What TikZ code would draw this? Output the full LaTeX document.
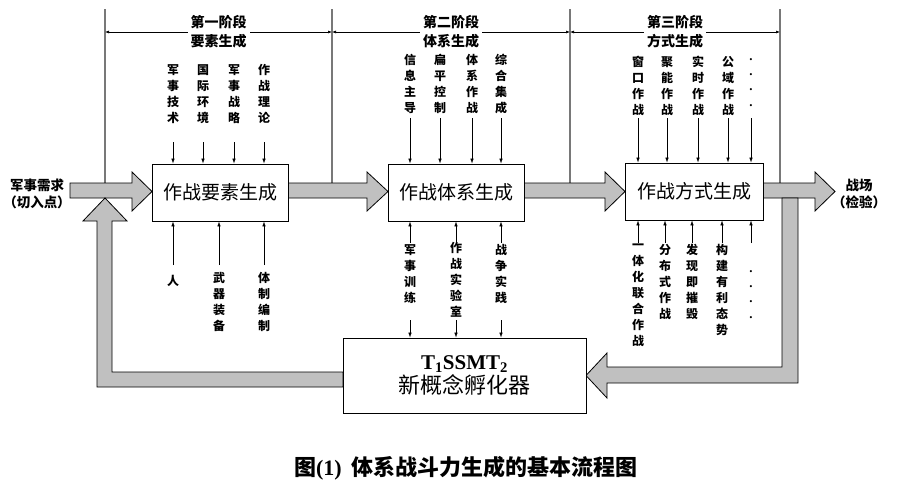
\documentclass[tikz,border=0pt]{standalone}
\usepackage{fontspec}
\usepackage{xcolor}
\usepackage{tikz}
\usetikzlibrary{arrows.meta}
\setmainfont{Liberation Serif}
\newfontfamily\cjk{Noto Sans CJK SC}
\definecolor{flowgray}{RGB}{192,192,192}
\definecolor{phasegray}{RGB}{120,120,120}

\tikzset{
  stagebox/.style={draw, line width=0.8pt, fill=white, inner sep=0pt},
  vlabel/.style={font=\cjk\bfseries\fontsize{12}{16}\selectfont, align=center, inner sep=0pt, anchor=north},
  dotlabel/.style={font=\bfseries\fontsize{13}{15.3}\selectfont, align=center, inner sep=0pt, anchor=north},
  sidelabel/.style={font=\cjk\bfseries\fontsize{13.5}{17}\selectfont, align=center, inner sep=0pt},
  phaselabel/.style={font=\cjk\bfseries\fontsize{14}{19}\selectfont, align=center, fill=white, inner sep=3pt},
  feed/.style={-{Latex[length=5pt,width=3.5pt]}, line width=0.6pt},
  phasearrow/.style={{Latex[length=4pt,width=3pt]}-{Latex[length=4pt,width=3pt]}, line width=0.6pt},
  phaseline/.style={draw=phasegray, line width=1.4pt},
  bigarrow/.style={fill=flowgray, draw=black, line width=0.8pt, line join=miter}
}

\begin{document}
\begin{tikzpicture}[x=1pt,y=-1pt]
\useasboundingbox (0,0) rectangle (898,482);

% phase boundaries
\draw[phaseline] (105,9)--(105,183);
\draw[phaseline] (332,9)--(332,183);
\draw[phaseline] (570,9)--(570,183);
\draw[phaseline] (780,9)--(780,183);
\coordinate (p0) at (105,32);
\coordinate (p1) at (332,32);
\coordinate (p2) at (570,32);
\coordinate (p3) at (780,32);
\draw[phasearrow] (p0) -- node[phaselabel] (s1) {第一阶段\\要素生成} (p1);
\draw[phasearrow] (p1) -- node[phaselabel] (s2) {第二阶段\\体系生成} (p2);
\draw[phasearrow] (p2) -- node[phaselabel] (s3) {第三阶段\\方式生成} (p3);

% thick gray flow
\draw[bigarrow] (70,183)--(132,183)--(132,172)--(152,191.5)--(132,211)--(132,198)--(70,198)--cycle;
\draw[bigarrow] (288,183)--(367,183)--(367,172)--(388,191.5)--(367,211)--(367,198)--(288,198)--cycle;
\draw[bigarrow] (524,183)--(605,183)--(605,172)--(625,191.5)--(605,211)--(605,198)--(524,198)--cycle;
\draw[bigarrow] (763,183)--(815,183)--(815,172)--(835,191.5)--(815,211)--(815,198)--(763,198)--cycle;
\draw[bigarrow] (782,198)--(798,198)--(798,383)--(607,383)--(607,398)--(586,375.5)--(607,353)--(607,367)--(782,367)--cycle;
\draw[bigarrow] (343,372)--(343,387)--(97,387)--(97,221)--(83,221)--(105,198)--(127,221)--(112,221)--(112,372)--cycle;

% boxes
\node[stagebox, minimum width=136pt, minimum height=57pt, font=\cjk\fontsize{19}{19}\selectfont] (b1) at (220,192.5) {作战要素生成};
\node[stagebox, minimum width=136pt, minimum height=57pt, font=\cjk\fontsize{19}{19}\selectfont] (b2) at (456,192.5) {作战体系生成};
\node[stagebox, minimum width=138pt, minimum height=57pt, font=\cjk\fontsize{19}{19}\selectfont] (b3) at (694,191.5) {作战方式生成};
\node[stagebox, minimum width=243pt, minimum height=75pt, align=center] (b4) at (464.5,375.5)
  {{\bfseries\fontsize{21}{30}\selectfont T\textsubscript{1}SSMT\textsubscript{2}}\\[2pt]{\cjk\fontsize{22}{26}\selectfont 新概念孵化器}};

\node[sidelabel] (need) at (37,193.5) {军事需求\\（切入点）};
\node[sidelabel] (field) at (859,194) {战场\\（检验）};

% stage 1
\node[vlabel] (t11) at (173,64) {军\\事\\技\\术};
\node[vlabel] (t12) at (203,64) {国\\际\\环\\境};
\node[vlabel] (t13) at (234,64) {军\\事\\战\\略};
\node[vlabel] (t14) at (264,64) {作\\战\\理\\论};
\node[vlabel] (u11) at (173,275) {人};
\node[vlabel] (u12) at (219,272) {武\\器\\装\\备};
\node[vlabel] (u13) at (264,272) {体\\制\\编\\制};

% stage 2
\node[vlabel] (t21) at (410,54) {信\\息\\主\\导};
\node[vlabel] (t22) at (440,54) {扁\\平\\控\\制};
\node[vlabel] (t23) at (472,54) {体\\系\\作\\战};
\node[vlabel] (t24) at (501,54) {综\\合\\集\\成};
\node[vlabel] (u21) at (410,244) {军\\事\\训\\练};
\node[vlabel] (u22) at (456,242) {作\\战\\实\\验\\室};
\node[vlabel] (u23) at (501,244) {战\\争\\实\\践};

% stage 3
\node[vlabel] (t31) at (638,56) {窗\\口\\作\\战};
\node[vlabel] (t32) at (667,56) {聚\\能\\作\\战};
\node[vlabel] (t33) at (698,56) {实\\时\\作\\战};
\node[vlabel] (t34) at (728,56) {公\\域\\作\\战};
\node[dotlabel] (t35) at (751,58) {.\\.\\.\\.};
\node[vlabel] (u31) at (638,244) {一\\体\\化\\联\\合\\作\\战};
\node[vlabel] (u32) at (665,244) {分\\布\\式\\作\\战};
\node[vlabel] (u33) at (692,244) {发\\现\\即\\摧\\毁};
\node[vlabel] (u34) at (722,244) {构\\建\\有\\利\\态\\势};
\node[dotlabel] (u35) at (751,270) {.\\.\\.\\.};

% small arrows
\coordinate (r1) at (0,142);
\coordinate (r2) at (0,118);
\coordinate (r3) at (0,265);
\coordinate (r4) at (0,243);
\coordinate (r5) at (0,320);
\foreach \n in {t11,t12,t13,t14} \draw[feed] (\n |- r1) -- (\n |- b1.north);
\foreach \n in {u11,u12,u13} \draw[feed] (\n |- r3) -- (\n |- b1.south);
\foreach \n in {t21,t22,t23,t24} \draw[feed] (\n |- r2) -- (\n |- b2.north);
\foreach \n in {u21,u22,u23} \draw[feed] (\n |- r4) -- (\n |- b2.south);
\foreach \n in {u21,u22,u23} \draw[feed] (\n |- r5) -- (\n |- b4.north);
\foreach \n in {t31,t32,t33,t34,t35} \draw[feed] (\n |- r2) -- (\n |- b3.north);
\foreach \n in {u31,u32,u33,u34,u35} \draw[feed] (\n |- r4) -- (\n |- b3.south);

\node[font=\cjk\bfseries\fontsize{22}{26}\selectfont] (cap) at (466,468)
  {图{\rmfamily\bfseries(1)}\ \ 体系战斗力生成的基本流程图};
\end{tikzpicture}
\end{document}
